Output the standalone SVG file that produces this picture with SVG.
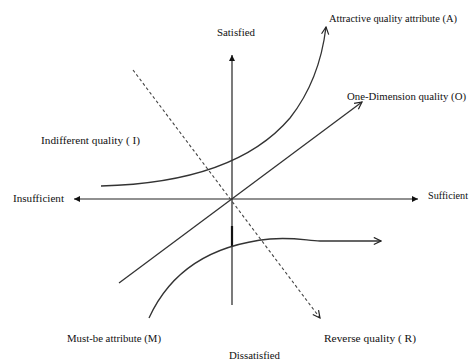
<svg xmlns="http://www.w3.org/2000/svg" width="473" height="362" viewBox="0 0 473 362">
<style>
text{font-family:"Liberation Serif","Times New Roman","DejaVu Serif",serif;font-size:11px;fill:#111}
.axis{stroke:#222;stroke-width:1.2;fill:none}
.curve{stroke:#333;stroke-width:1.3;fill:none}
.dash{stroke:#444;stroke-width:1.1;fill:none;stroke-dasharray:3,2.5}
</style>
<defs>
<marker id="solid" viewBox="0 0 10 10" refX="10" refY="5" markerWidth="6" markerHeight="6" markerUnits="userSpaceOnUse" orient="auto">
<path d="M0,0 L10,5 L0,10 z" fill="#111"/>
</marker>
<marker id="open" viewBox="0 0 10 10" refX="9" refY="5" markerWidth="9" markerHeight="9" markerUnits="userSpaceOnUse" orient="auto">
<path d="M1,1 L9,5 L1,9" fill="none" stroke="#222" stroke-width="1.3"/>
</marker>
</defs>
<rect width="473" height="362" fill="#fff"/>
<g id="connectors">
<line class="axis" x1="232" y1="305" x2="232" y2="55" marker-end="url(#solid)"/>
<line class="axis" x1="232" y1="199" x2="418" y2="199" marker-end="url(#solid)"/>
<line class="axis" x1="232" y1="199" x2="74" y2="199" marker-end="url(#solid)"/>
<line x1="232" y1="226" x2="232" y2="247" stroke="#111" stroke-width="2.2"/>
<path id="curve-A" class="curve" d="M101,186 C180,184 250,165 290,118 C312,90 322,60 326,27" marker-end="url(#open)"/>
<line id="line-O" class="curve" x1="119" y1="283" x2="362" y2="102" marker-end="url(#open)"/>
<line id="line-R" class="dash" x1="133" y1="70" x2="320" y2="318" marker-end="url(#open)"/>
<path id="curve-M" class="curve" d="M149,318 C170,272 210,245 270,239 C295,237 308,241 320,241 L381,241" marker-end="url(#open)"/>
</g>
<g font-family="'Liberation Serif','Times New Roman','DejaVu Serif',serif">
<g id="satisfied"><text x="217" y="36" textLength="38" lengthAdjust="spacingAndGlyphs">Satisfied</text></g>
<g id="dissatisfied"><text x="229" y="359" textLength="51" lengthAdjust="spacingAndGlyphs">Dissatisfied</text></g>
<g id="insufficient"><text x="13" y="202" textLength="51" lengthAdjust="spacingAndGlyphs">Insufficient</text></g>
<g id="sufficient"><text x="428" y="199" textLength="40" lengthAdjust="spacingAndGlyphs">Sufficient</text></g>
<g id="attractive"><text x="329" y="22" style="font-size:10px" textLength="128" lengthAdjust="spacingAndGlyphs">Attractive quality  attribute (A)</text></g>
<g id="one-dimension"><text x="347" y="100" textLength="119" lengthAdjust="spacingAndGlyphs">One-Dimension quality (O)</text></g>
<g id="indifferent"><text x="41" y="144" textLength="99" lengthAdjust="spacingAndGlyphs">Indifferent quality  ( I)</text></g>
<g id="must-be"><text x="67" y="342" textLength="94" lengthAdjust="spacingAndGlyphs">Must-be attribute (M)</text></g>
<g id="reverse"><text x="324" y="342" textLength="92" lengthAdjust="spacingAndGlyphs">Reverse quality  ( R)</text></g>
</g>
</svg>
